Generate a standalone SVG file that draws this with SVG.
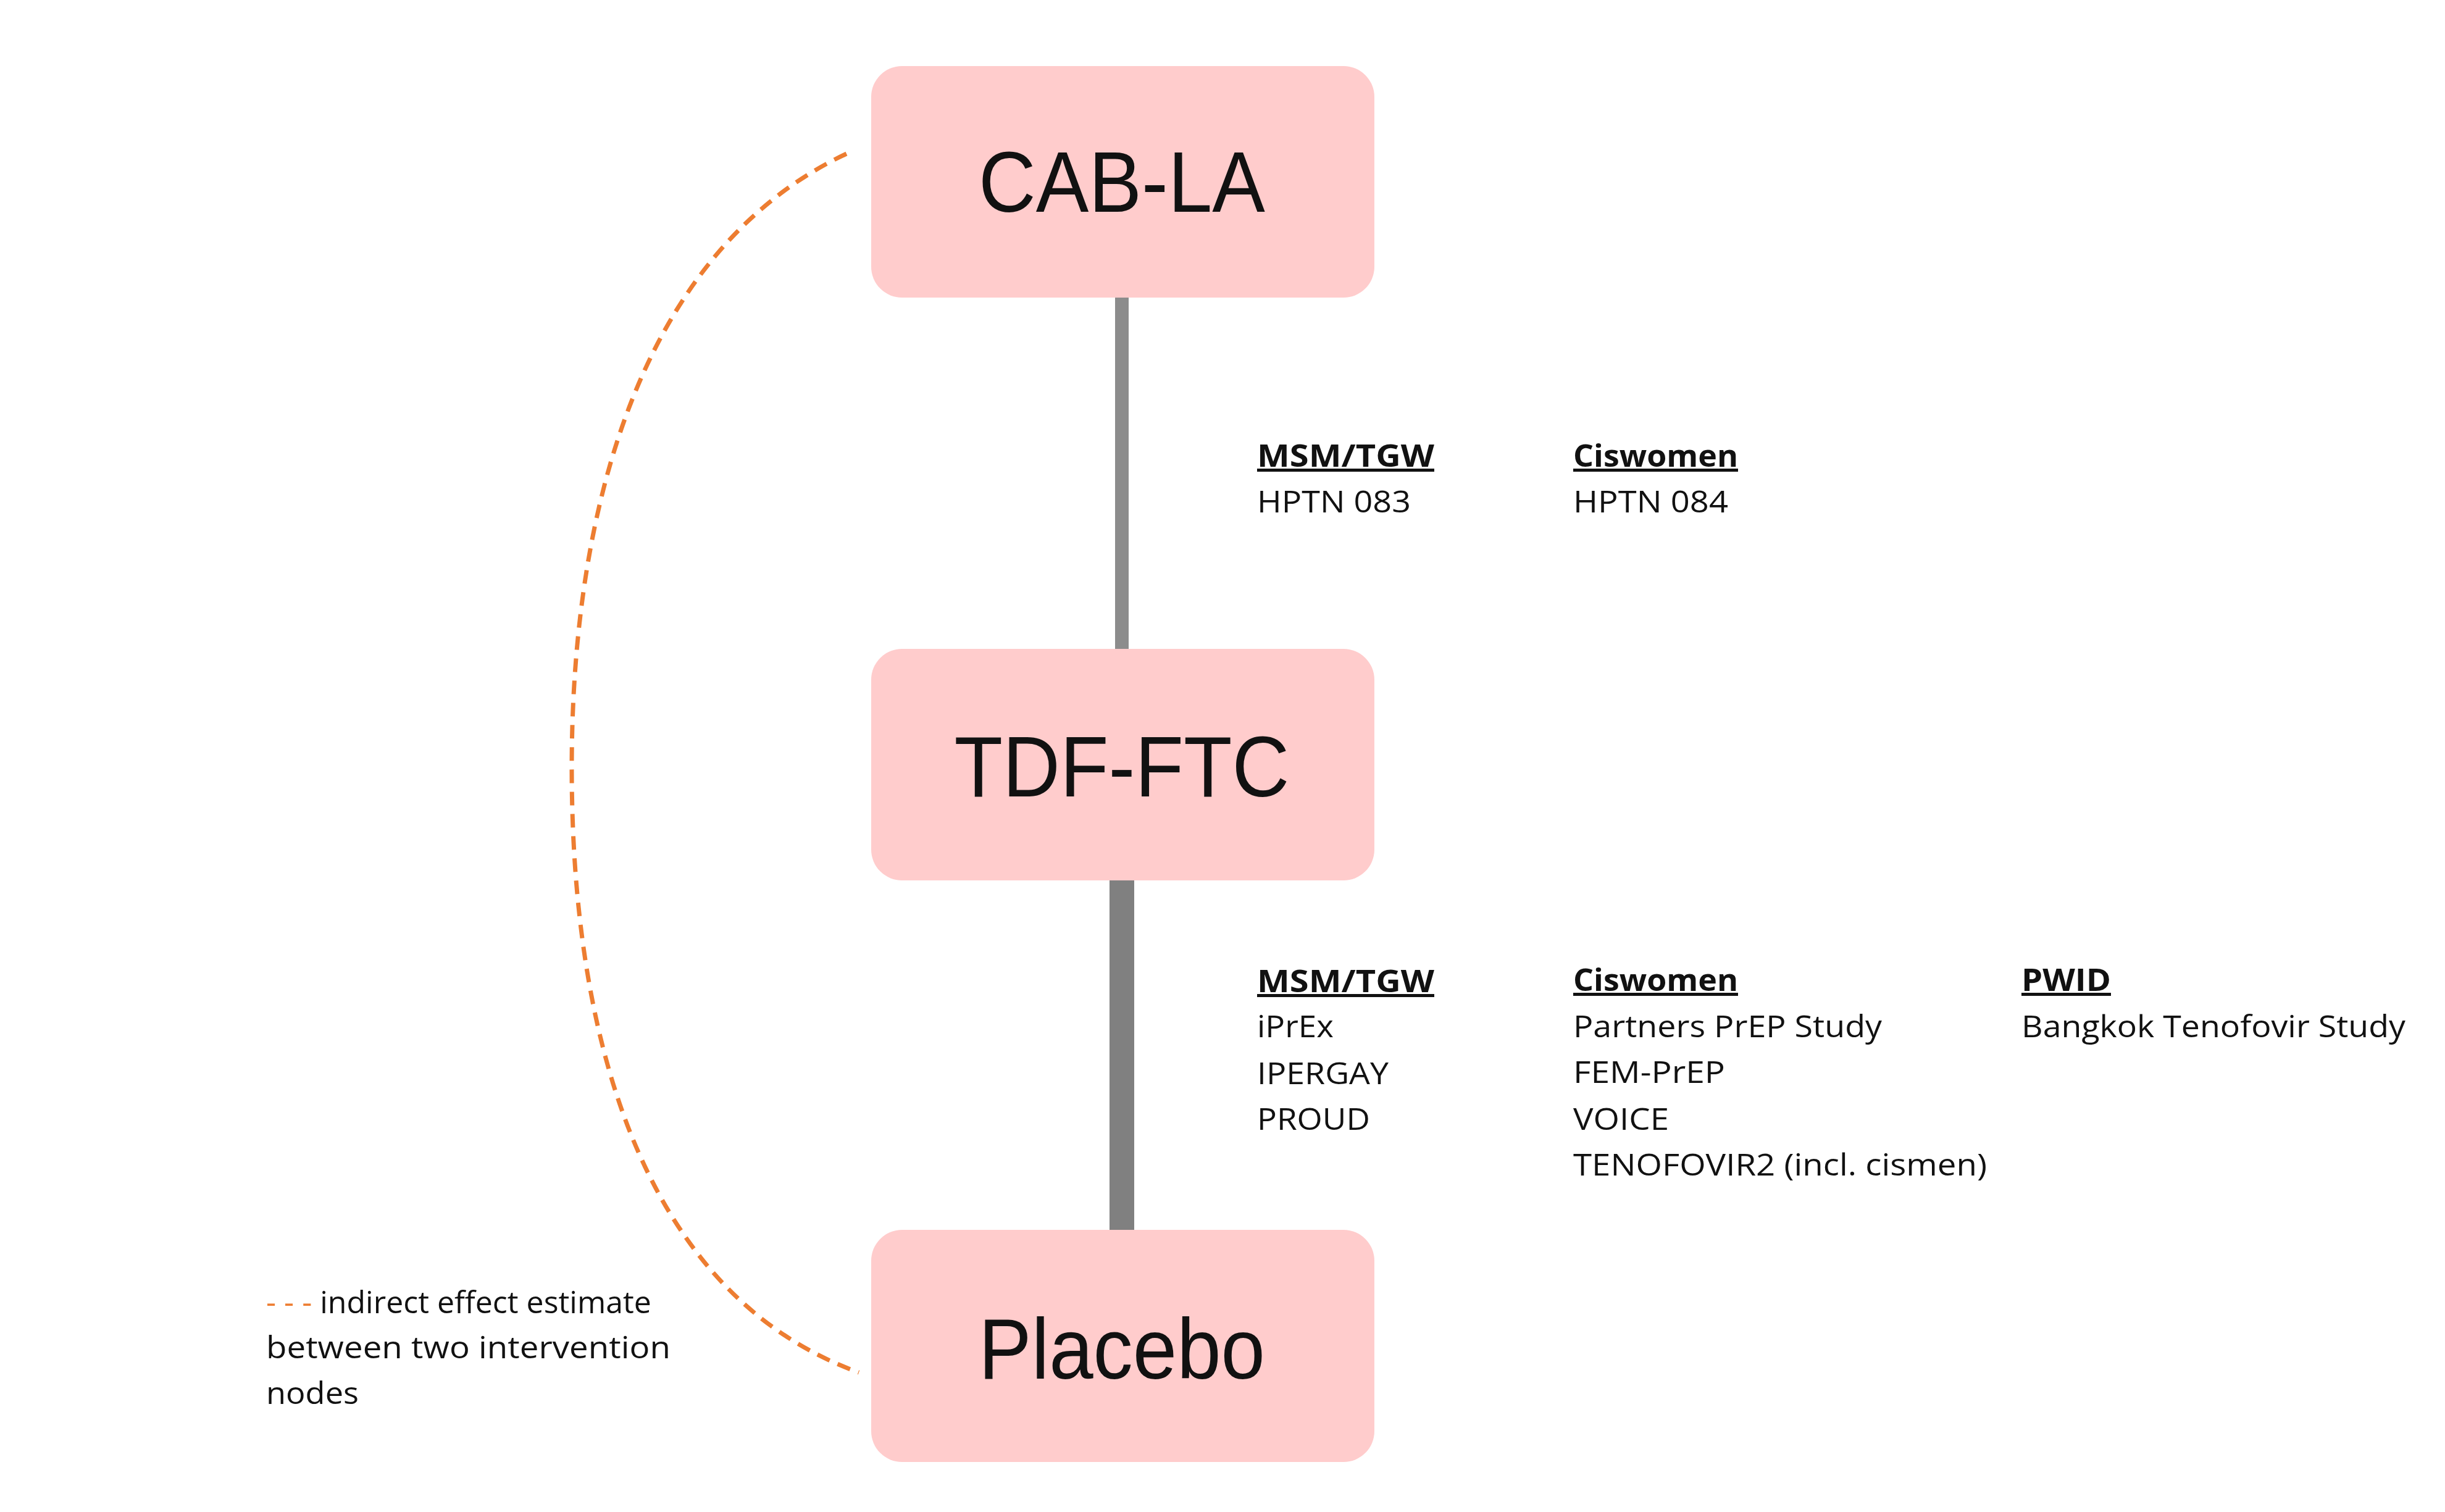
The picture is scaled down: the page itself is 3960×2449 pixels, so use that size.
<svg xmlns="http://www.w3.org/2000/svg" width="3960" height="2449" viewBox="0 0 3960 2449">
<style>
.node{fill:#ffcccc}
.nl{font-family:"Liberation Sans",Arial,sans-serif;font-size:140px;fill:#111;text-anchor:middle}
.t{font-family:"Open Sans","Noto Sans",sans-serif;font-size:50px;fill:#111}
.h{font-weight:bold;text-decoration:underline}
</style>
<rect width="3960" height="2449" fill="#fff"/>
<g id="connectors">
<line x1="1817" y1="482" x2="1817" y2="1051" stroke="#8c8c8c" stroke-width="22"/>
<line x1="1817" y1="1426" x2="1817" y2="1992" stroke="#808080" stroke-width="40"/>
<path d="M1371,249 C1050,400 926,800 926,1244 C926,1700 1050,2100 1391,2223" fill="none" stroke="#ed7d31" stroke-width="7" stroke-dasharray="22,14"/>
</g>
<g id="cab-la"><rect class="node" x="1411" y="107" width="815" height="375" rx="50"/><text class="nl" x="1817" y="343" textLength="464" lengthAdjust="spacingAndGlyphs">CAB-LA</text></g>
<g id="tdf-ftc"><rect class="node" x="1411" y="1051" width="815" height="375" rx="50"/><text class="nl" x="1817" y="1290" textLength="543" lengthAdjust="spacingAndGlyphs">TDF-FTC</text></g>
<g id="placebo"><rect class="node" x="1411" y="1992" width="815" height="376" rx="50"/><text class="nl" x="1817" y="2233" textLength="464" lengthAdjust="spacingAndGlyphs">Placebo</text></g>
<g id="labels-top">
<text class="t h" x="2036" y="756" textLength="287" lengthAdjust="spacingAndGlyphs">MSM/TGW</text>
<text class="t" x="2036" y="830" textLength="249" lengthAdjust="spacingAndGlyphs">HPTN 083</text>
<text class="t h" x="2548" y="756" textLength="267" lengthAdjust="spacingAndGlyphs">Ciswomen</text>
<text class="t" x="2548" y="830" textLength="251" lengthAdjust="spacingAndGlyphs">HPTN 084</text>
</g>
<g id="labels-bottom">
<text class="t h" x="2036" y="1607" textLength="287" lengthAdjust="spacingAndGlyphs">MSM/TGW</text>
<text class="t" x="2036" y="1680" textLength="124" lengthAdjust="spacingAndGlyphs">iPrEx</text>
<text class="t" x="2036" y="1756" textLength="213" lengthAdjust="spacingAndGlyphs">IPERGAY</text>
<text class="t" x="2036" y="1830" textLength="183" lengthAdjust="spacingAndGlyphs">PROUD</text>
<text class="t h" x="2548" y="1605" textLength="267" lengthAdjust="spacingAndGlyphs">Ciswomen</text>
<text class="t" x="2548" y="1680" textLength="500" lengthAdjust="spacingAndGlyphs">Partners PrEP Study</text>
<text class="t" x="2548" y="1754" textLength="246" lengthAdjust="spacingAndGlyphs">FEM-PrEP</text>
<text class="t" x="2548" y="1830" textLength="155" lengthAdjust="spacingAndGlyphs">VOICE</text>
<text class="t" x="2548" y="1904" textLength="670" lengthAdjust="spacingAndGlyphs">TENOFOVIR2 (incl. cismen)</text>
<text class="t h" x="3274" y="1605" textLength="145" lengthAdjust="spacingAndGlyphs">PWID</text>
<text class="t" x="3274" y="1680" textLength="622" lengthAdjust="spacingAndGlyphs">Bangkok Tenofovir Study</text>
</g>
<g id="legend">
<text class="t" x="431" y="2127"><tspan fill="#ed7d31">- - -</tspan> indirect effect estimate</text>
<text class="t" x="431" y="2200" textLength="655" lengthAdjust="spacingAndGlyphs">between two intervention</text>
<text class="t" x="431" y="2274" textLength="150" lengthAdjust="spacingAndGlyphs">nodes</text>
</g>
</svg>
